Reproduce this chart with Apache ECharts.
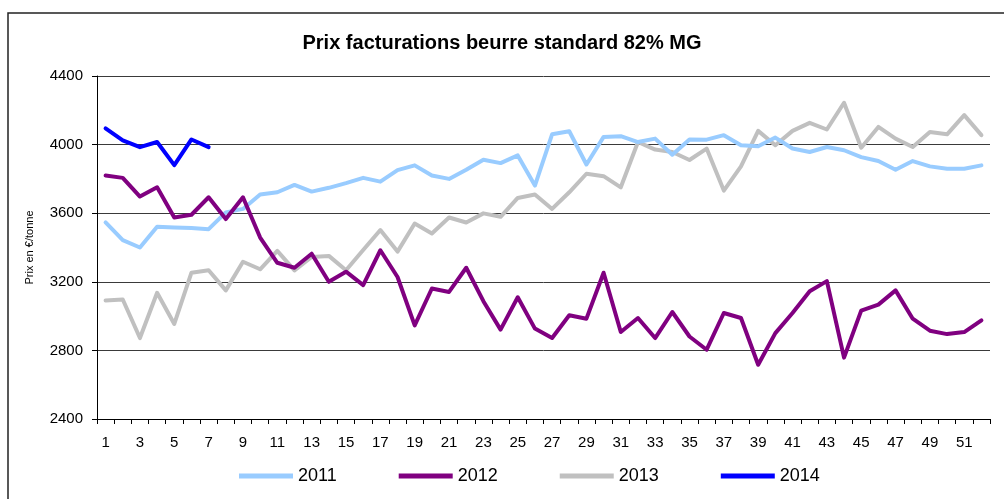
<!DOCTYPE html>
<html>
<head>
<meta charset="utf-8">
<script src="https://cdn.jsdelivr.net/npm/echarts@6/dist/echarts.min.js"></script>
<style>
html,body{margin:0;padding:0;background:#fff;}
#c{width:1004px;height:499px;}
</style>
</head>
<body>
<div id="c"></div>
<script>
const weeks = Array.from({length: 52}, (_, i) => String(i + 1));
const yTicks = [2400, 2800, 3200, 3600, 4000, 4400];
const s2011 = [3546, 3443, 3400, 3521, 3517, 3513, 3507, 3605, 3625, 3709, 3722, 3765, 3726, 3748, 3775, 3806, 3784, 3851, 3879, 3820, 3800, 3853, 3912, 3892, 3937, 3761, 4060, 4078, 3884, 4045, 4049, 4015, 4035, 3941, 4030, 4029, 4055, 3996, 3990, 4041, 3977, 3957, 3986, 3967, 3927, 3904, 3853, 3904, 3873, 3859, 3859, 3879];
const s2012 = [3820, 3806, 3697, 3751, 3575, 3591, 3693, 3566, 3693, 3458, 3311, 3282, 3364, 3200, 3259, 3181, 3384, 3228, 2946, 3161, 3141, 3282, 3087, 2921, 3110, 2927, 2872, 3005, 2985, 3253, 2907, 2989, 2872, 3024, 2881, 2804, 3018, 2989, 2716, 2901, 3018, 3145, 3204, 2758, 3032, 3067, 3150, 2985, 2915, 2895, 2907, 2975];
const s2013 = [3091, 3097, 2872, 3136, 2954, 3253, 3267, 3150, 3317, 3273, 3380, 3267, 3345, 3351, 3267, 3385, 3502, 3376, 3540, 3482, 3575, 3546, 3599, 3579, 3689, 3709, 3625, 3722, 3830, 3816, 3751, 4015, 3971, 3957, 3910, 3977, 3732, 3873, 4080, 3996, 4080, 4127, 4088, 4244, 3982, 4103, 4035, 3986, 4074, 4060, 4172, 4055];
const s2014 = [4095, 4025, 3985, 4015, 3880, 4030, 3985];
const seriesNames = ['2011', '2012', '2013', '2014'];
const seriesColors = ['#99CCFF', '#800080', '#C0C0C0', '#0000FF'];
const seriesData = [s2011, s2012, s2013, s2014];

const chart = echarts.init(document.getElementById('c'), null, {renderer: 'canvas'});
chart.setOption({
  animation: false,
  backgroundColor: '#fff',
  textStyle: {fontFamily: 'Liberation Sans, Arial, sans-serif'},
  title: {
    text: 'Prix facturations beurre standard 82% MG',
    left: 'center', top: 28,
    textStyle: {fontSize: 20, fontWeight: 'bold', color: '#000', fontFamily: 'Liberation Sans, Arial, sans-serif'}
  },
  graphic: [{
    type: 'rect', silent: true, z: -1,
    shape: {x: 8, y: 13, width: 1010, height: 500},
    style: {fill: 'none', stroke: '#222', lineWidth: 1.5}
  }],
  legend: {
    left: 234, top: 462,
    itemWidth: 54, itemHeight: 5, itemGap: 62,
    icon: 'rect',
    textStyle: {fontSize: 18, color: '#000'},
    data: seriesNames
  },
  grid: {left: 97, right: 14, top: 76, bottom: 80, containLabel: false},
  xAxis: {
    type: 'category', data: weeks, boundaryGap: true,
    axisLine: {lineStyle: {color: '#000', width: 1}},
    axisTick: {show: true, alignWithLabel: false, interval: 0, length: 5, lineStyle: {color: '#000'}},
    axisLabel: {interval: 1, color: '#000', fontSize: 15, margin: 16},
    splitLine: {show: false}
  },
  yAxis: {
    type: 'value', min: yTicks[0], max: yTicks[yTicks.length - 1], interval: 400,
    name: 'Prix en €/tonne', nameLocation: 'middle', nameGap: 62, nameRotate: 90,
    nameTextStyle: {fontSize: 11, color: '#000'},
    axisLine: {show: true, lineStyle: {color: '#000', width: 1}},
    axisTick: {show: true, length: 5, lineStyle: {color: '#000'}},
    axisLabel: {color: '#000', fontSize: 15, margin: 14, formatter: v => String(v)},
    splitLine: {show: true, lineStyle: {color: '#3a3a3a', width: 1}}
  },
  series: seriesNames.map((n, i) => ({
    name: n, type: 'line', data: seriesData[i],
    showSymbol: false, symbol: 'none',
    lineStyle: {color: seriesColors[i], width: 4, join: 'round', cap: 'round'},
    itemStyle: {color: seriesColors[i]},
    z: 2 + (i === 3 ? 3 : i === 1 ? 2 : i === 0 ? 1 : 0)
  }))
});
</script>
</body>
</html>
